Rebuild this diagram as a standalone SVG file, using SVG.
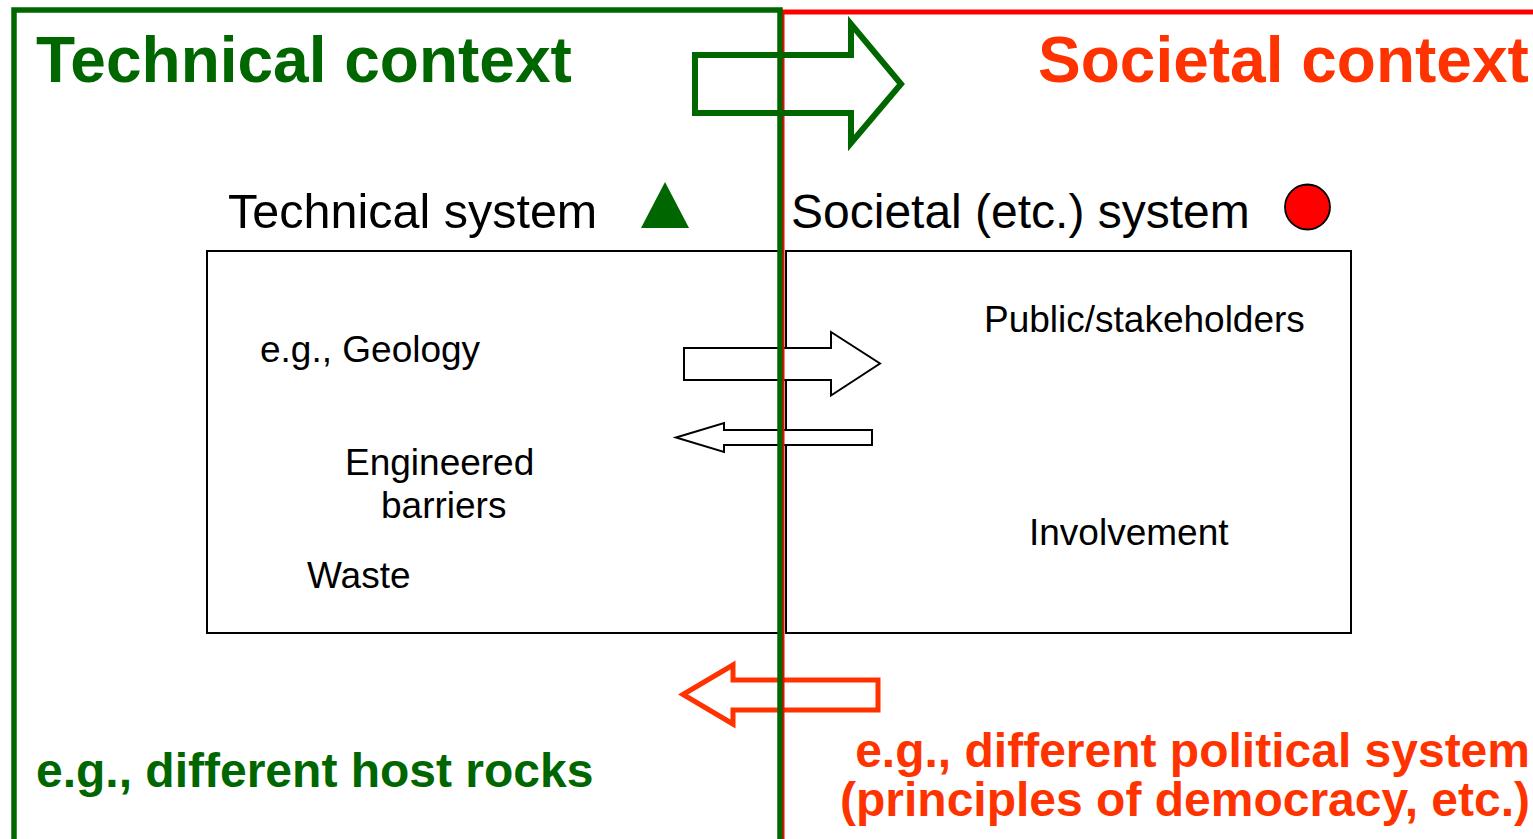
<svg xmlns="http://www.w3.org/2000/svg" width="1533" height="839" viewBox="0 0 1533 839">
<style>
.box{fill:#ffffff;stroke:#000000;stroke-width:2}
.harrow{fill:#ffffff;stroke:#000000;stroke-width:2}
.bold{font-family:"Liberation Sans",Arial,sans-serif;font-weight:bold}
.reg{font-family:"Liberation Sans",Arial,sans-serif;fill:#000000}
.green{fill:#006600}
.orange{fill:#ff3300}
</style>
<rect width="1533" height="839" fill="#ffffff"/>
<g id="technical-system-box">
<rect class="box" x="207" y="251" width="572" height="382"/>
<text class="reg" x="260" y="362" font-size="37">e.g., Geology</text>
<text class="reg" x="345" y="475" font-size="37">Engineered</text>
<text class="reg" x="381" y="518" font-size="37">barriers</text>
<text class="reg" x="307" y="588" font-size="37">Waste</text>
</g>
<g id="societal-system-box">
<rect class="box" x="786" y="251" width="565" height="382"/>
<text class="reg" x="984" y="332" font-size="37">Public/stakeholders</text>
<text class="reg" x="1029" y="545" font-size="37">Involvement</text>
</g>
<g id="connectors">
<polygon class="harrow" points="684,348 831,348 831,332 880,363.5 831,395.5 831,380 684,380"/>
<polygon class="harrow" points="676,437.5 724,423 724,430 872,430 872,445 724,445 724,452"/>
<polygon points="683,694.5 733,665 733,680 878,680 878,710 733,710 733,724" fill="none" stroke="#ff3300" stroke-width="5"/>
</g>
<g id="societal-context">
<rect x="782" y="12" width="800" height="900" fill="none" stroke="#ff0000" stroke-width="5"/>
<text class="bold orange" x="1038" y="82" font-size="64">Societal context</text>
<text class="bold orange" x="1530" y="767" font-size="48" text-anchor="end">e.g., different political system</text>
<text class="bold orange" x="1530" y="816" font-size="48" text-anchor="end">(principles of democracy, etc.)</text>
</g>
<g id="technical-context">
<rect x="14" y="10" width="766" height="900" fill="none" stroke="#006600" stroke-width="5.5"/>
<text class="bold green" x="36" y="82" font-size="64">Technical context</text>
<text class="bold green" x="36" y="787" font-size="48">e.g., different host rocks</text>
</g>
<g id="context-arrow">
<polygon points="695,55 851,55 851,24 901,84 851,143 851,113 695,113" fill="none" stroke="#006600" stroke-width="6"/>
</g>
<g id="technical-system-label">
<text class="reg" x="228" y="228" font-size="48.5">Technical system</text>
<polygon points="665,182 689,228 641,228" fill="#006600"/>
</g>
<g id="societal-system-label">
<text class="reg" x="791" y="228" font-size="48">Societal (etc.) system</text>
<circle cx="1307.5" cy="207" r="22.5" fill="#ff0000" stroke="#000000" stroke-width="1.8"/>
</g>
</svg>
